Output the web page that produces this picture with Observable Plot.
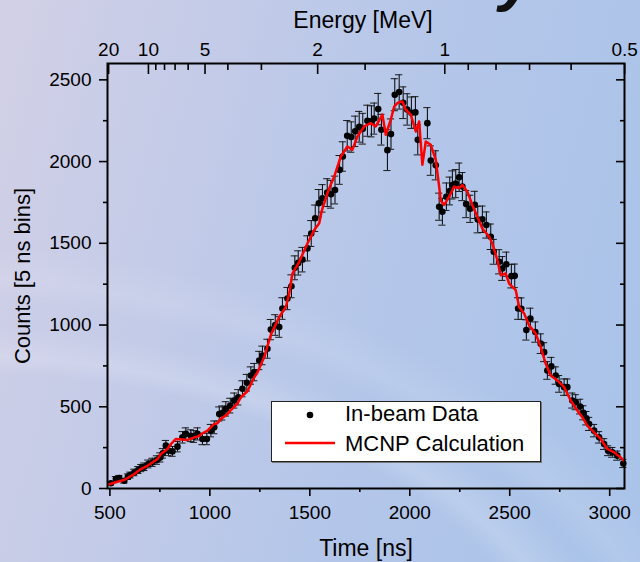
<!DOCTYPE html>
<html>
<head>
<meta charset="utf-8">
<script src="https://cdn.jsdelivr.net/npm/d3@7"></script>
<script src="https://cdn.jsdelivr.net/npm/@observablehq/plot@0.6"></script>
<style>
  html, body { margin: 0; padding: 0; }
  body {
    width: 640px; height: 562px; overflow: hidden; position: relative;
    font-family: "Liberation Sans", Arial, sans-serif;
    background:
      radial-gradient(ellipse 980px 560px at -8% 128%, rgba(255,255,255,0) 62%, rgba(255,255,255,0.16) 65%, rgba(255,255,255,0) 70%),
      radial-gradient(ellipse 1100px 700px at -15% 140%, rgba(255,255,255,0) 70%, rgba(255,255,255,0.10) 73%, rgba(255,255,255,0) 78%),
      linear-gradient(105deg, #d2d0e6 0%, #c3cbe8 30%, #b3c6e9 60%, #a9c3e9 100%);
  }
  #chart { position: absolute; left: 0; top: 0; }
  #chart svg { display: block; }
  .slide-title {
    position: absolute; left: 499px; top: -55px;
    font: italic bold 64px/1 "Liberation Sans", Arial, sans-serif; color: #111;
  }
  .legend {
    position: absolute; left: 271px; top: 401px; width: 268px; height: 59px;
    background: #fff; border: 1px solid #222; box-shadow: 1px 1px 0 #777;
  }
  .legend svg { position: absolute; left: 0; top: 0; }
  .legend span {
    position: absolute; left: 73px; font-size: 22px; line-height: 24px; color: #000; white-space: nowrap;
  }
</style>
</head>
<body>
<div class="slide-title">y</div>
<div id="chart"></div>
<script>
// In-beam time-of-flight spectrum (5 ns bins)
const time = [
  505, 530, 547, 572, 590, 602, 622, 642, 657, 672,
  692, 713, 735, 752, 765, 780, 793, 813, 838, 863,
  880, 905, 920, 938, 963, 985, 1005, 1022, 1047, 1062,
  1080, 1102, 1122, 1142, 1163, 1185, 1205, 1222, 1247, 1263,
  1288, 1305, 1327, 1347, 1363, 1388, 1408, 1425, 1442, 1463,
  1488, 1507, 1527, 1545, 1563, 1587, 1606, 1626, 1649, 1665,
  1687, 1707, 1727, 1747, 1765, 1788, 1808, 1822, 1842, 1858,
  1888, 1906, 1925, 1947, 1967, 1987, 2008, 2028, 2040, 2088,
  2105, 2130, 2147, 2163, 2183, 2200, 2213, 2230, 2247, 2263,
  2282, 2302, 2325, 2340, 2363, 2383, 2405, 2420, 2447, 2463,
  2483, 2508, 2525, 2542, 2558, 2583, 2603, 2628, 2655, 2672,
  2688, 2708, 2730, 2747, 2772, 2788, 2813, 2830, 2852, 2868,
  2883, 2897, 2922, 2947, 2972, 2992, 3013, 3038, 3068
];
const counts = [
  32, 58, 64, 47, 72, 82, 98, 113, 125, 133,
  150, 160, 174, 190, 215, 262, 231, 227, 256, 313,
  334, 323, 318, 334, 303, 303, 354, 374, 456, 462,
  487, 507, 538, 558, 610, 647, 691, 712, 783, 814,
  855, 972, 1000, 988, 1101, 1162, 1237, 1350, 1380, 1400,
  1469, 1560, 1653, 1745, 1775, 1810, 1800, 1826, 1949, 2031,
  2158, 2150, 2185, 2213, 2201, 2250, 2246, 2263, 2321, 2195,
  2070, 2168, 2409, 2426, 2360, 2319, 2299, 2301, 2133, 2235,
  2006, 1977, 1724, 1693, 1785, 1820, 1857, 1865, 1904, 1847,
  1740, 1711, 1735, 1645, 1647, 1612, 1540, 1448, 1387, 1346,
  1372, 1299, 1301, 1101, 1100, 970, 1039, 957, 886, 834,
  722, 747, 691, 640, 620, 620, 538, 528, 501, 463,
  430, 395, 354, 313, 272, 231, 221, 201, 153
];
const errors = [
  11, 15, 16, 14, 17, 18, 20, 21, 22, 23,
  24, 25, 26, 28, 29, 32, 30, 30, 32, 35,
  37, 36, 36, 37, 35, 35, 38, 39, 43, 43,
  44, 45, 46, 47, 49, 51, 53, 53, 56, 57,
  58, 62, 63, 63, 66, 68, 70, 73, 74, 75,
  77, 79, 81, 84, 84, 85, 85, 85, 88, 90,
  93, 93, 93, 94, 94, 95, 95, 95, 96, 94,
  125, 93, 98, 105, 97, 96, 96, 96, 92, 95,
  90, 89, 83, 82, 84, 85, 86, 86, 87, 86,
  83, 83, 83, 81, 81, 80, 78, 76, 74, 73,
  74, 72, 72, 66, 66, 62, 64, 62, 60, 58,
  54, 55, 53, 51, 50, 50, 46, 46, 45, 43,
  41, 40, 38, 35, 33, 30, 30, 28, 25
];

// MCNP simulation of the same spectrum
const mcnpTime = [
  488, 555, 572, 622, 655, 688, 705, 738, 755, 788,
  805, 830, 860, 888, 922, 938, 972, 988, 1022, 1038,
  1055, 1088, 1105, 1138, 1155, 1188, 1222, 1238, 1272, 1305,
  1347, 1380, 1397, 1413, 1447, 1488, 1522, 1547, 1560, 1588,
  1605, 1622, 1655, 1688, 1713, 1738, 1772, 1805, 1830, 1863,
  1880, 1905, 1922, 1938, 1963, 1980, 2005, 2030, 2047, 2055,
  2063, 2080, 2105, 2130, 2147, 2155, 2172, 2197, 2222, 2247,
  2263, 2288, 2313, 2338, 2363, 2397, 2413, 2438, 2455, 2480,
  2497, 2530, 2547, 2572, 2597, 2630, 2655, 2680, 2705, 2738,
  2772, 2805, 2838, 2863, 2888, 2922, 2955, 2988, 3022, 3055,
  3074
];
const mcnpCounts = [
  23, 47, 52, 88, 119, 139, 153, 180, 211, 242,
  272, 303, 300, 297, 313, 317, 344, 354, 395, 399,
  426, 455, 480, 520, 558, 595, 681, 710, 804, 940,
  1049, 1110, 1193, 1315, 1387, 1499, 1581, 1622, 1700, 1806,
  1860, 1908, 2031, 2092, 2072, 2153, 2215, 2235, 2215, 2287,
  2164, 2256, 2337, 2358, 2368, 2317, 2287, 2184, 2245, 2113,
  1980, 2123, 2102, 2010, 1847, 1760, 1735, 1785, 1847, 1837,
  1857, 1816, 1735, 1663, 1591, 1540, 1499, 1397, 1305, 1315,
  1254, 1213, 1110, 1070, 998, 947, 865, 763, 691, 661,
  620, 538, 477, 436, 385, 344, 303, 242, 221, 190,
  165
];

// Axis ticks
const timeTicks = [500, 1000, 1500, 2000, 2500, 3000];
const timeMinor = [750, 1250, 1750, 2250, 2750];
const countTicks = [0, 500, 1000, 1500, 2000, 2500];
const countMinor = [250, 750, 1250, 1750, 2250];
const energyMajor = [20, 10, 5, 2, 1, 0.5];
const energyMinor = [9, 8, 7, 6, 4, 3, 1.5, 0.9, 0.8, 0.7, 0.6];
const legendLabels = ["In-beam Data", "MCNP Calculation"];

// Neutron flight time for a kinetic energy E (MeV), relativistic,
// with the flight path set so that 1 MeV arrives at 2175 ns.
const NEUTRON_MASS = 939.565;
const beta = E => Math.sqrt(1 - 1 / ((1 + E / NEUTRON_MASS) ** 2));
const TOF_1MEV = 2175;
const tof = E => TOF_1MEV * beta(1) / beta(E);

const points = time.map((t, i) => ({t, c: counts[i], e: errors[i]}));
const mcnp = mcnpTime.map((t, i) => ({t, c: mcnpCounts[i]}));

const W = 640, H = 562;
const mL = 107, mR = 16, mT = 63, mB = 74;
const innerW = W - mL - mR, innerH = H - mT - mB;
const axisStroke = 1.6;
const plain = d => String(d);

const chart = Plot.plot({
  width: W, height: H,
  marginLeft: mL, marginRight: mR, marginTop: mT, marginBottom: mB,
  style: {
    background: "transparent",
    fontFamily: "'Liberation Sans', Arial, sans-serif",
    fontSize: "19px",
    color: "#000",
    overflow: "visible"
  },
  x: {domain: [488, 3074], label: null},
  y: {domain: [0, 2600], label: null},
  marks: [
    // error bars with caps
    Plot.ruleX(points, {x: "t", y1: d => d.c - d.e, y2: d => d.c + d.e, stroke: "#000", strokeWidth: 1}),
    Plot.ruleY(points, {y: d => d.c + d.e, x1: "t", x2: "t", insetLeft: -3.6, insetRight: -3.6, stroke: "#1a1a1a", strokeWidth: 1}),
    Plot.ruleY(points, {y: d => d.c - d.e, x1: "t", x2: "t", insetLeft: -3.6, insetRight: -3.6, stroke: "#1a1a1a", strokeWidth: 1}),
    Plot.dot(points, {x: "t", y: "c", r: 3.3, fill: "#000", stroke: "none"}),
    Plot.line(mcnp, {x: "t", y: "c", stroke: "#ff0000", strokeWidth: 2.5, clip: true}),

    // bottom time axis
    Plot.axisX({anchor: "bottom", ticks: timeTicks, tickFormat: plain, tickSize: 8, tickPadding: 9, strokeWidth: axisStroke, label: null}),
    Plot.axisX({anchor: "bottom", ticks: timeMinor, tickSize: 4, tickFormat: () => "", strokeWidth: axisStroke, label: null}),
    // left counts axis
    Plot.axisY({anchor: "left", ticks: countTicks, tickFormat: plain, tickSize: 8, tickPadding: 8, strokeWidth: axisStroke, label: null}),
    Plot.axisY({anchor: "left", ticks: countMinor, tickSize: 4, tickFormat: () => "", strokeWidth: axisStroke, label: null}),
    // right inward ticks
    Plot.ruleY(countTicks, {y: d => d, insetLeft: innerW - 8, strokeWidth: axisStroke}),
    Plot.ruleY(countMinor, {y: d => d, insetLeft: innerW - 4, strokeWidth: axisStroke}),
    // top energy axis (inward ticks)
    Plot.ruleX(energyMajor, {x: tof, insetBottom: innerH - 11, strokeWidth: axisStroke}),
    Plot.ruleX(energyMinor, {x: tof, insetBottom: innerH - 7, strokeWidth: axisStroke}),
    Plot.text(energyMajor, {x: tof, text: plain, frameAnchor: "top", dy: -8, lineAnchor: "bottom", fontSize: 19}),

    Plot.frame({stroke: "#000", strokeWidth: 2}),

    // axis titles
    Plot.text(["Energy [MeV]"], {text: d => d, frameAnchor: "top", textAnchor: "middle", lineAnchor: "middle", dx: -3, dy: -43, fontSize: 23}),
    Plot.text(["Time [ns]"], {text: d => d, frameAnchor: "bottom", textAnchor: "middle", lineAnchor: "middle", dy: 60, fontSize: 23}),
    Plot.text(["Counts [5 ns bins]"], {text: d => d, frameAnchor: "left", textAnchor: "middle", lineAnchor: "middle", dx: -85, rotate: -90, fontSize: 22})
  ]
});
document.getElementById("chart").appendChild(chart);

// legend box
const legend = document.createElement("div");
legend.className = "legend";
legend.innerHTML =
  `<svg width="268" height="59">
     <circle cx="38" cy="13" r="3.3" fill="#000"></circle>
     <line x1="13" x2="63" y1="41" y2="41" stroke="#ff0000" stroke-width="2.5"></line>
   </svg>
   <span style="top:0px">${legendLabels[0]}</span>
   <span style="top:30px">${legendLabels[1]}</span>`;
document.body.appendChild(legend);
</script>
</body>
</html>
